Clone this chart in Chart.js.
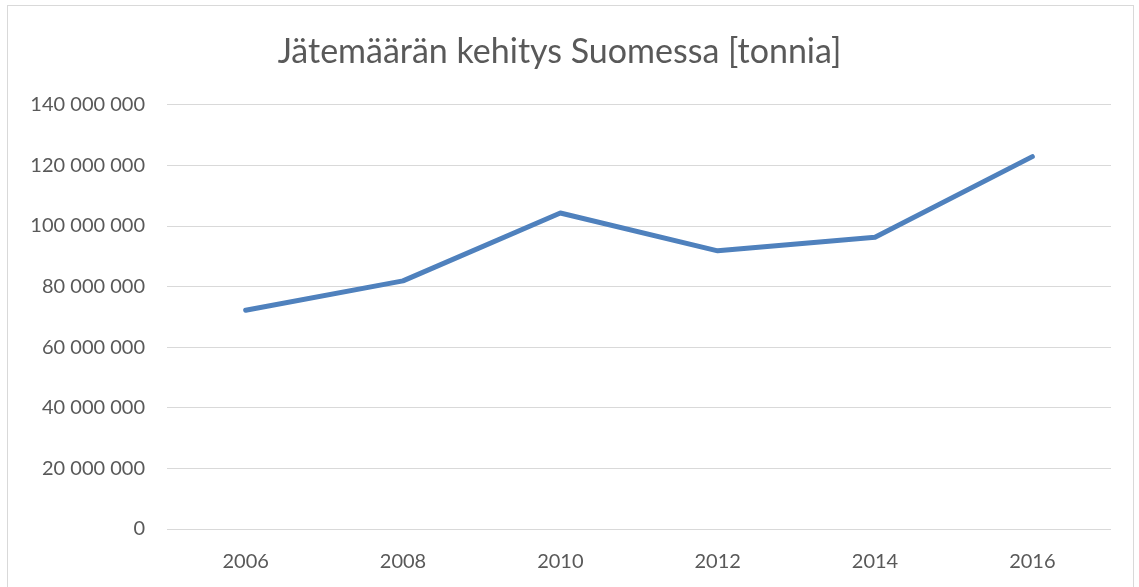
<!DOCTYPE html>
<html>
<head>
<meta charset="utf-8">
<script src="https://cdn.jsdelivr.net/npm/chart.js@4/dist/chart.umd.min.js"></script>
<style>
  html, body { margin: 0; padding: 0; background: #fff; overflow: hidden; }
  #frame {
    position: absolute; left: 7px; top: 5px;
    width: 1125px; height: 590px;
    border: 1px solid #d9d9d9;
  }
  #waste-chart { display: block; }
</style>
</head>
<body>
<div id="frame">
  <canvas id="waste-chart" width="1125" height="581" style="width:1125px;height:581px"></canvas>
</div>
<script>
  const years = ["2006", "2008", "2010", "2012", "2014", "2016"];
  const wasteTonnes = [72200000, 81900000, 104300000, 91800000, 96300000, 122900000];
  const chartTitle = "Jätemäärän kehitys Suomessa [tonnia]";

  const textColor = "#595959";

  function spaced(value) {
    return String(value).replace(/\B(?=(\d{3})+(?!\d))/g, " ");
  }

  const ctx = document.getElementById('waste-chart');
  new Chart(ctx, {
    type: 'line',
    data: {
      labels: years,
      datasets: [{
        label: "Jätemäärä",
        data: wasteTonnes,
        borderColor: '#4F81BD',
        borderWidth: 5,
        borderCapStyle: 'round',
        borderJoinStyle: 'round',
        fill: false,
        pointRadius: 0,
        tension: 0
      }]
    },
    options: {
      responsive: false,
      animation: false,
      layout: {
        padding: { left: 0, right: 22, top: 0, bottom: 0 }
      },
      scales: {
        x: {
          offset: true,
          border: { display: false },
          grid: { display: false },
          ticks: {
            color: textColor,
            font: { family: "Lato", size: 20 },
            padding: 13,
            maxRotation: 0
          },
          afterFit: function(scale) { scale.height = 58; }
        },
        y: {
          min: 0,
          max: 140000000,
          border: { display: false },
          grid: {
            color: "#d9d9d9",
            lineWidth: 1,
            drawTicks: false
          },
          ticks: {
            stepSize: 20000000,
            color: textColor,
            font: { family: "Lato", size: 20 },
            padding: 22,
            callback: function(value) {
              return spaced(value);
            }
          },
          afterFit: function(scale) { scale.width = 159; }
        }
      },
      plugins: {
        legend: { display: false },
        tooltip: { enabled: false },
        title: {
          display: true,
          text: chartTitle,
          color: textColor,
          font: { family: "Lato", size: 34, weight: 'normal' },
          padding: { top: 26, bottom: 32 }
        }
      }
    }
  });
</script>
</body>
</html>
